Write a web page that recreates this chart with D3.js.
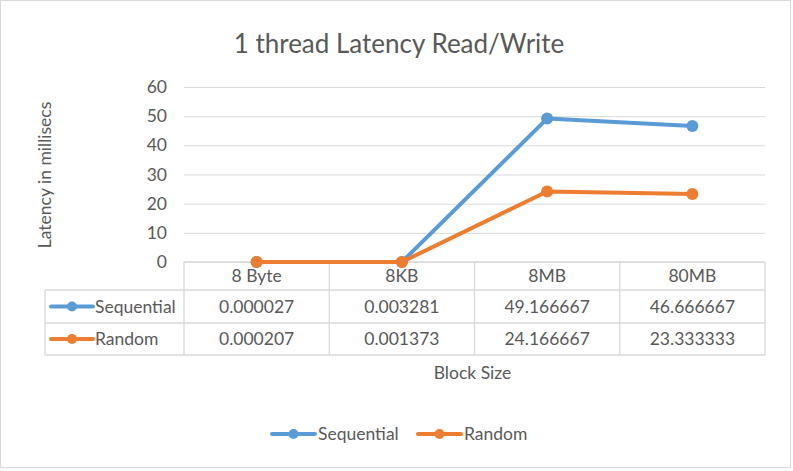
<!DOCTYPE html>
<html><head><meta charset="utf-8">
<script src="https://cdn.jsdelivr.net/npm/d3@7"></script>
<style>body{margin:0;background:#fff}svg{display:block}text{font-family:Lato,"Open Sans",sans-serif;fill:#595959}</style>
</head><body>
<svg id="c" width="793" height="471"></svg>
<script>
const categories = ["8 Byte", "8KB", "8MB", "80MB"];
const seriesNames = ["Sequential", "Random"];
const sequential = [0.000027, 0.003281, 49.166667, 46.666667];
const random = [0.000207, 0.001373, 24.166667, 23.333333];
const sequentialLabels = ["0.000027", "0.003281", "49.166667", "46.666667"];
const randomLabels = ["0.000207", "0.001373", "24.166667", "23.333333"];
const yTicks = [0, 10, 20, 30, 40, 50, 60];
const colors = ["#5B9BD5", "#ED7D31"];

(function(){
const fs = "17.5px";
const svg = d3.select("#c");
svg.append("rect").attr("x",0.5).attr("y",0.5).attr("width",790).attr("height",467).attr("fill","#fff").attr("stroke","#d9d9d9");

const pl = 184, pr = 765, pt = 87, pb = 262;
const x = d3.scaleBand().domain(categories).range([pl, pr]);
const y = d3.scaleLinear().domain([0, 60]).range([pb, pt]);

svg.append("text").attr("x", 399).attr("y", 53).attr("text-anchor","middle").style("font-size","26px").text("1 thread Latency Read/Write");

const yAxis = d3.axisLeft(y).tickValues(yTicks).tickSize(-(pr-pl)).tickPadding(17);
const ga = svg.append("g").attr("transform",`translate(${pl},0)`).call(yAxis);
ga.select(".domain").remove();
ga.selectAll(".tick line").attr("stroke","#d9d9d9").attr("stroke-width",1);
ga.selectAll(".tick text").style("font-size",fs).style("font-family","Lato,sans-serif").attr("fill","#595959");

svg.append("text").attr("transform",`translate(51,175) rotate(-90)`).attr("text-anchor","middle").style("font-size",fs).text("Latency in millisecs");

const rowTops = [262, 290, 323, 355];
const tg = svg.append("g").attr("stroke","#d9d9d9").attr("stroke-width",1.3);
rowTops.forEach((ry,i)=>{ tg.append("line").attr("x1", i===0?pl:45).attr("x2",pr).attr("y1",ry).attr("y2",ry); });
[...categories.map(c=>x(c)), pr].forEach(cx=>{ tg.append("line").attr("x1",cx).attr("x2",cx).attr("y1",262).attr("y2",355); });
tg.append("line").attr("x1",45).attr("x2",45).attr("y1",290).attr("y2",355);

svg.selectAll(".hdr").data(categories).join("text").attr("x",d=>x(d)+x.bandwidth()/2).attr("y",282).attr("text-anchor","middle").style("font-size",fs).text(d=>d);
const rowsLab = [sequentialLabels, randomLabels];
rowsLab.forEach((labs,ri)=>{
  const cy = (rowTops[ri+1]+rowTops[ri+2])/2;
  svg.selectAll(".r"+ri).data(labs).join("text").attr("x",(d,i)=>x(categories[i])+x.bandwidth()/2).attr("y",cy+6).attr("text-anchor","middle").style("font-size",fs).text(d=>d);
  svg.append("line").attr("x1",51).attr("x2",93).attr("y1",cy).attr("y2",cy).attr("stroke",colors[ri]).attr("stroke-width",4).attr("stroke-linecap","round");
  svg.append("circle").attr("cx",72).attr("cy",cy).attr("r",5).attr("fill",colors[ri]);
  svg.append("text").attr("x",95).attr("y",cy+6).style("font-size",fs).text(seriesNames[ri]);
});

const line = d3.line().x((d,i)=>x(categories[i])+x.bandwidth()/2).y(d=>y(d));
[sequential, random].forEach((s,si)=>{
  svg.append("path").attr("d",line(s)).attr("fill","none").attr("stroke",colors[si]).attr("stroke-width",4).attr("stroke-linejoin","round");
  svg.selectAll(".p"+si).data(s).join("circle").attr("cx",(d,i)=>x(categories[i])+x.bandwidth()/2).attr("cy",d=>y(d)).attr("r",6).attr("fill",colors[si]);
});

svg.append("text").attr("x",(pl+pr)/2 -2).attr("y",379).attr("text-anchor","middle").style("font-size",fs).text("Block Size");

const lx = [272, 418];
seriesNames.forEach((n,i)=>{
  svg.append("line").attr("x1",lx[i]).attr("x2",lx[i]+43).attr("y1",434).attr("y2",434).attr("stroke",colors[i]).attr("stroke-width",4).attr("stroke-linecap","round");
  svg.append("circle").attr("cx",lx[i]+21.5).attr("cy",434).attr("r",5).attr("fill",colors[i]);
  svg.append("text").attr("x",lx[i]+46).attr("y",440).style("font-size",fs).text(n);
});
})();
</script>
</body></html>
